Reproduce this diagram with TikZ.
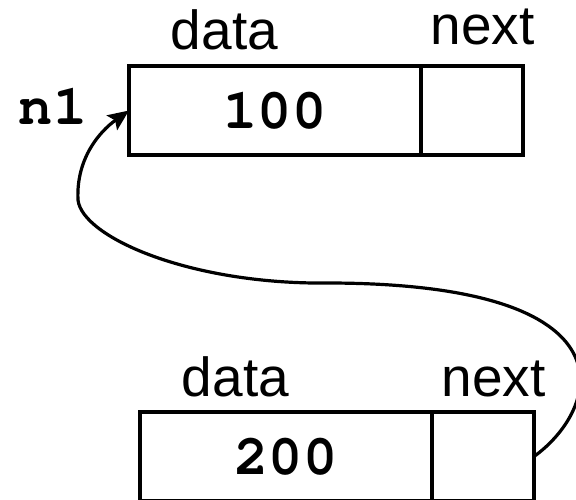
\documentclass[tikz,border=0pt]{standalone}
\usepackage{fontspec}
\setmainfont{Liberation Sans}
\newfontfamily\codefont{texgyrecursor-bold.otf}
\usetikzlibrary{positioning,arrows.meta}

\begin{document}
\begin{tikzpicture}[
   x = 1pt, y = 1pt,
   cell/.style = {draw, line width=3.2pt, inner sep=0pt, outer sep=0pt,
      minimum height=89pt},
   datacell/.style = {cell, minimum width=292pt},
   nextcell/.style = {cell, minimum width=102pt},
   value/.style = {font=\fontsize{57}{57}\selectfont\codefont},
   field/.style = {anchor=base, font=\fontsize{55}{55}\selectfont},
]
   \useasboundingbox (0,0) rectangle (576,499);
   % first list node
   \node [datacell, value] (data1) at (275,388.5) {100};
   \node [nextcell, right=0pt of data1] (next1) {};
   \node [field] (dlabel1) at (224.5,449) {data};
   \node [field] (nlabel1) at (482.5,454) {next};
   \node [value, anchor=base] (n1) at (53,374) {n1};
   % second list node
   \node [datacell, value] (data2) at (286,42.5) {200};
   \node [nextcell, right=0pt of data2] (next2) {};
   \node [field] (dlabel2) at (235.5,103) {data};
   \node [field] (nlabel2) at (493.5,103) {next};
   % link back to n1
   \draw [line width=3.2pt, -{Stealth[length=21pt, width=18pt, inset=4pt]}]
      (next2.east) .. controls (600,90) and (640,215) .. (330,216)
      .. controls (190,214) and (82,262) .. (78,299)
      .. controls (76,340) and (99,367) .. (data1.west);
\end{tikzpicture}
\end{document}
